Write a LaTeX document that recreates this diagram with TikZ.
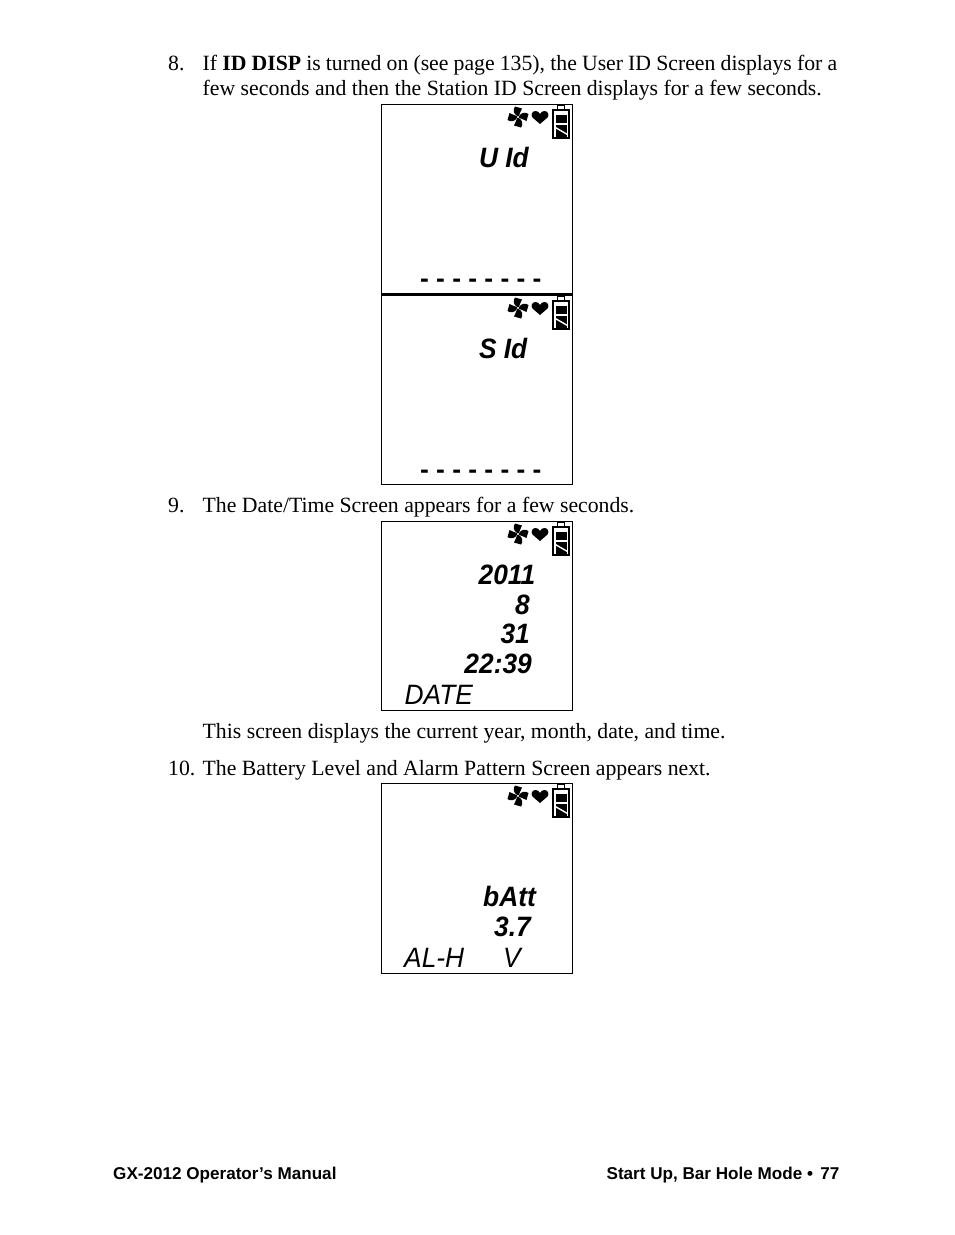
\documentclass[tikz,border=0pt]{standalone}
\usepackage{fontspec}
\setmainfont{Liberation Serif}
\setsansfont{Liberation Sans}
\newfontfamily\lcdfont[FakeStretch=0.94]{Liberation Sans}
\tikzset{
  x=1pt,y=-1pt,
  body/.style={anchor=base west,inner sep=0pt,font=\fontsize{21.75}{25}\selectfont},
  lcd/.style={anchor=base east,inner sep=0pt,font=\fontsize{28}{30}\selectfont\lcdfont\bfseries\itshape},
  lcdn/.style={anchor=base west,inner sep=0pt,font=\fontsize{28}{30}\selectfont\lcdfont\itshape},
  foot/.style={inner sep=0pt,font=\fontsize{17.1}{18}\selectfont\sffamily\bfseries},
  screen/.style={draw=black,line width=1pt,fill=white},
  dashline/.style={anchor=base west,inner sep=0pt,font=\fontsize{26.3}{30}\selectfont\sffamily\bfseries},
}
\newcommand{\lcdicons}[2]{%
  \begin{scope}[shift={(#1,#2)}]
    % fan
    \foreach \a in {0,90,180,270}{
      \begin{scope}[shift={(136,13)},rotate=\a]
        \fill[black] (-0.5,-0.8) .. controls (-4.5,-3) and (-5.5,-7.5) .. (-3,-10.5) -- (4,-8.5) .. controls (2.5,-5.5) and (1.5,-3) .. (0.8,-0.8) -- cycle;
      \end{scope}
    }
    % heart
    \fill[black] (158,20) -- (150.5,13.5) .. controls (148.5,11) and (150,7) .. (153.5,7) .. controls (155.5,7) and (157,8) .. (158,10) .. controls (159,8) and (160.5,7) .. (162.5,7) .. controls (166,7) and (167.5,11) .. (165.5,13.5) -- cycle;
    % battery
    \draw[black,line width=2pt] (171,5.5) rectangle (187,34);
    \draw[black,line width=1.2pt] (175.5,1.5) rectangle (182.5,5.5);
    \fill[black] (173.5,11) rectangle (184.5,19);
    \fill[black] (173.5,21) rectangle (184.5,32.5);
    \draw[white,line width=1.4pt] (172.5,23) -- (185.5,30.5);
  \end{scope}%
}
\begin{document}
\begin{tikzpicture}
\useasboundingbox[fill=white] (0,0) rectangle (954,1235);

\node[body] (n8) at (168,70.5) {8.};
\node[body] (t8a) at (202.5,70.5) {\makebox[634.5pt][s]{If \textbf{ID DISP} is turned on (see page 135), the User ID Screen displays for a}};
\node[body] (t8b) at (202.5,95.5) {few seconds and then the Station ID Screen displays for a few seconds.};

% screen 1
\draw[screen] (381.5,104.5) rectangle (572.5,294.5);
\lcdicons{382}{104}
\node[lcd] (uid) at (529,167.5) {U Id};
\node[dashline] (d1) at (420,287.5) {- - - - - - - -};

% screen 2
\draw[screen] (381.5,294.5) rectangle (572.5,484.5);
\draw[black,line width=3pt] (381.5,294.5) -- (572.5,294.5);
\lcdicons{382}{295}
\node[lcd] (sid) at (527.5,358) {S Id};
\node[dashline] (d2) at (420,478.5) {- - - - - - - -};

\node[body] (n9) at (168,512.5) {9.};
\node[body] (t9) at (202.5,512.5) {The Date/Time Screen appears for a few seconds.};

% screen 3
\draw[screen] (381.5,521.5) rectangle (572.5,710.5);
\lcdicons{382}{521}
\node[lcd] (yr) at (535.5,584.5) {2011};
\node[lcd] (mo) at (530,614.5) {8};
\node[lcd] (dy) at (530,643.5) {31};
\node[lcd] (tm) at (532,673.5) {22:39};
\node[lcdn] (date) at (404.5,704.5) {DATE};

\node[body] (t9b) at (202.5,738.5) {This screen displays the current year, month, date, and time.};
\node[body] (n10) at (168,775.5) {10.};
\node[body] (t10) at (202.5,775.5) {The Battery Level and Alarm Pattern Screen appears next.};

% screen 4
\draw[screen] (381.5,783.5) rectangle (572.5,973.5);
\lcdicons{382}{783}
\node[lcd] (batt) at (536,906.5) {bAtt};
\node[lcd] (volt) at (531,936.5) {3.7};
\node[lcdn] (al) at (404,967.5) {AL-H};
\node[lcdn] (v) at (503,967.5) {V};

\node[foot,anchor=base west] (fl) at (113,1179) {GX-2012 Operator’s Manual};
\node[foot,anchor=base east] (fr) at (839.5,1179) {Start Up, Bar Hole Mode\hspace{0.28em}\textbullet\hspace{0.42em}77};
\end{tikzpicture}
\end{document}
